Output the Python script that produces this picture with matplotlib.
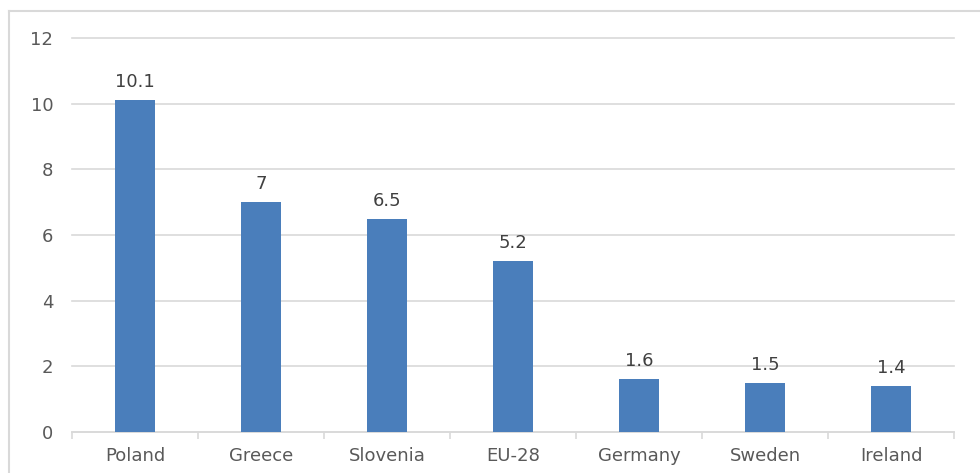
import matplotlib
matplotlib.use("Agg")
import matplotlib.pyplot as plt
from matplotlib.lines import Line2D

plt.rcParams["font.family"] = ["DejaVu Sans"]

categories = ["Poland", "Greece", "Slovenia", "EU-28", "Germany", "Sweden", "Ireland"]
values = [10.1, 7, 6.5, 5.2, 1.6, 1.5, 1.4]
yticks = [0, 2, 4, 6, 8, 10, 12]

W, H = 980, 473
fig = plt.figure(figsize=(W / 100, H / 100), dpi=100)
fig.patch.set_facecolor("white")

# outer chart border (left and top visible)
fig.add_artist(Line2D([9 / W, 9 / W], [0, 1 - 11 / H], transform=fig.transFigure, color="#d9d9d9", lw=1.5))
fig.add_artist(Line2D([9 / W, 1], [1 - 11 / H, 1 - 11 / H], transform=fig.transFigure, color="#d9d9d9", lw=1.5))

left, right = 72 / W, 954 / W
top, bottom = 1 - 38 / H, 1 - 432 / H
ax = fig.add_axes([left, bottom, right - left, top - bottom])

x = list(range(len(categories)))
ax.bar(x, values, width=0.32, color="#4a7ebb", zorder=3)
for xi, v in zip(x, values):
    lab = f"{v:g}"
    ax.annotate(lab, (xi, v), xytext=(0, 6.5), textcoords="offset points",
                ha="center", va="bottom", fontsize=13, color="#404040")

ax.set_xlim(-0.5, len(categories) - 0.5)
ax.set_ylim(0, 12)
ax.set_yticks(yticks)
ax.set_yticklabels([str(t) for t in yticks], fontsize=13, color="#595959")
ax.yaxis.grid(True, color="#d9d9d9", lw=1.2, zorder=0)
for gl in ax.get_ygridlines():
    gl.set_clip_on(False)
ax.set_axisbelow(True)

ax.set_xticks(x)
ax.set_xticklabels(categories, fontsize=13, color="#595959")
ax.tick_params(axis="x", length=0, pad=10.5)
ax.tick_params(axis="y", length=0, pad=13.5)
# category boundary ticks
ax.set_xticks([i - 0.5 for i in range(len(categories) + 1)], minor=True)
ax.tick_params(axis="x", which="minor", length=5, color="#d9d9d9", width=1.2)

for s in ["top", "right", "left"]:
    ax.spines[s].set_visible(False)
ax.spines["bottom"].set_color("#d9d9d9")
ax.spines["bottom"].set_linewidth(1.2)

fig.savefig("out.png", dpi=100, facecolor="white")
